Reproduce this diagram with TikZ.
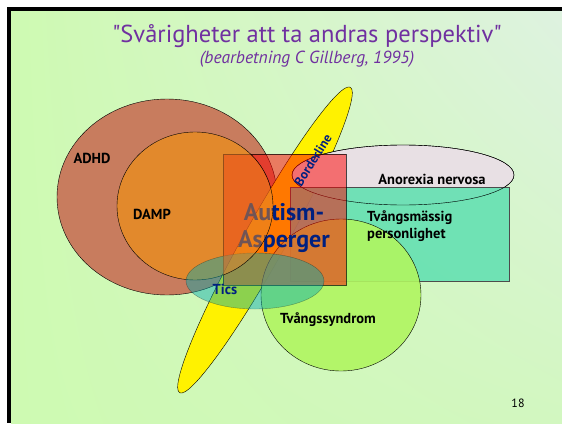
\documentclass[tikz,border=0pt]{standalone}
\usepackage{fontspec}
\setmainfont{PT Sans}
\newfontfamily\titlefont{PT Sans}[Ligatures=TeXOff]
\usetikzlibrary{positioning,shadings}

\definecolor{bggreen}{RGB}{206,250,178}
\definecolor{bglight}{RGB}{222,242,224}
\definecolor{bgmid}{RGB}{210,247,192}
\definecolor{adhdbrown}{RGB}{200,124,94}
\definecolor{damporange}{RGB}{226,137,44}
\definecolor{anorexlav}{RGB}{232,224,228}
\definecolor{personteal}{RGB}{100,224,178}
\definecolor{syndromgreen}{RGB}{176,245,96}
\definecolor{labelblue}{RGB}{0,32,128}
\definecolor{titlepurple}{RGB}{112,48,160}

\tikzset{
  titletext/.style={text=titlepurple, font=\titlefont\fontsize{24.5}{28}\selectfont, inner sep=0pt},
  subtitletext/.style={text=titlepurple, font=\itshape\fontsize{17.5}{20}\selectfont, inner sep=0pt},
  lbl/.style={text=black, font=\bfseries\fontsize{14.5}{17}\selectfont, inner sep=0pt},
  bluelbl/.style={lbl, text=labelblue},
}

\begin{document}
\begin{tikzpicture}[x=1pt,y=-1pt]
\useasboundingbox (0,0) rectangle (562,423);
% slide background and frame
\shade[upper left=bggreen, lower left=bggreen, upper right=bglight, lower right=bgmid] (11,11) rectangle (562,423);
\fill[black] (7,7) rectangle (11,423);
\fill[black] (7,7) rectangle (562,11);

% title
\node[titletext] (title) at (307,36) {"Svårigheter att ta andras perspektiv"};
\node[subtitletext, below=3pt of title] (source) {(bearbetning C Gillberg, 1995)};

% circles and boxes
\draw[fill=adhdbrown] (167,197) ellipse [x radius=110, y radius=98];
\draw[fill=damporange] (195,206) ellipse [x radius=78, y radius=74];
\draw[fill=yellow, rotate around={60.8:(265,240)}] (265,240) ellipse [x radius=175, y radius=21];
\draw[fill=anorexlav] (403,175) ellipse [x radius=111, y radius=30];
\draw[draw=black!70, fill=personteal, fill opacity=0.9] (290,187) rectangle (509,281);
\draw (403,175) ellipse [x radius=111, y radius=30];
\draw[fill=syndromgreen, fill opacity=0.9] (341,295) ellipse [x radius=80, y radius=76];
\draw[fill=red, fill opacity=0.5, draw opacity=0.7] (223,154) rectangle (346,285);
\draw[fill=cyan!60!green, fill opacity=0.45, draw opacity=0.35] (255,281) ellipse [x radius=69, y radius=28];

% texts
\node[lbl] (adhd) at (92,158) {ADHD};
\node[lbl] (damp) at (152,214) {DAMP};
\node[bluelbl, font=\bfseries\fontsize{13}{15}\selectfont, rotate=58] (borderline) at (313,160) {Borderline};
\node[bluelbl, font=\bfseries\fontsize{24}{27}\selectfont, align=center] (autism) at (284,228) {Autism-\\Asperger};
\node[lbl] (anorexia) at (432,179) {Anorexia nervosa};
\node[lbl, align=left, anchor=north west] (tvmassig) at (367,211) {Tvångsmässig\\personlighet};
\node[lbl] (tvsyndrom) at (328,320) {Tvångssyndrom};
\node[bluelbl] (tics) at (225,289) {Tics};
\node[font=\fontsize{12}{14}\selectfont, inner sep=0pt] (pagenr) at (518,403) {18};

% DAMP shows through over the text
\begin{scope}
\clip (223,154) rectangle (346,285);
\draw[fill=damporange, fill opacity=0.5] (195,206) ellipse [x radius=78, y radius=74];
\end{scope}
\end{tikzpicture}
\end{document}
